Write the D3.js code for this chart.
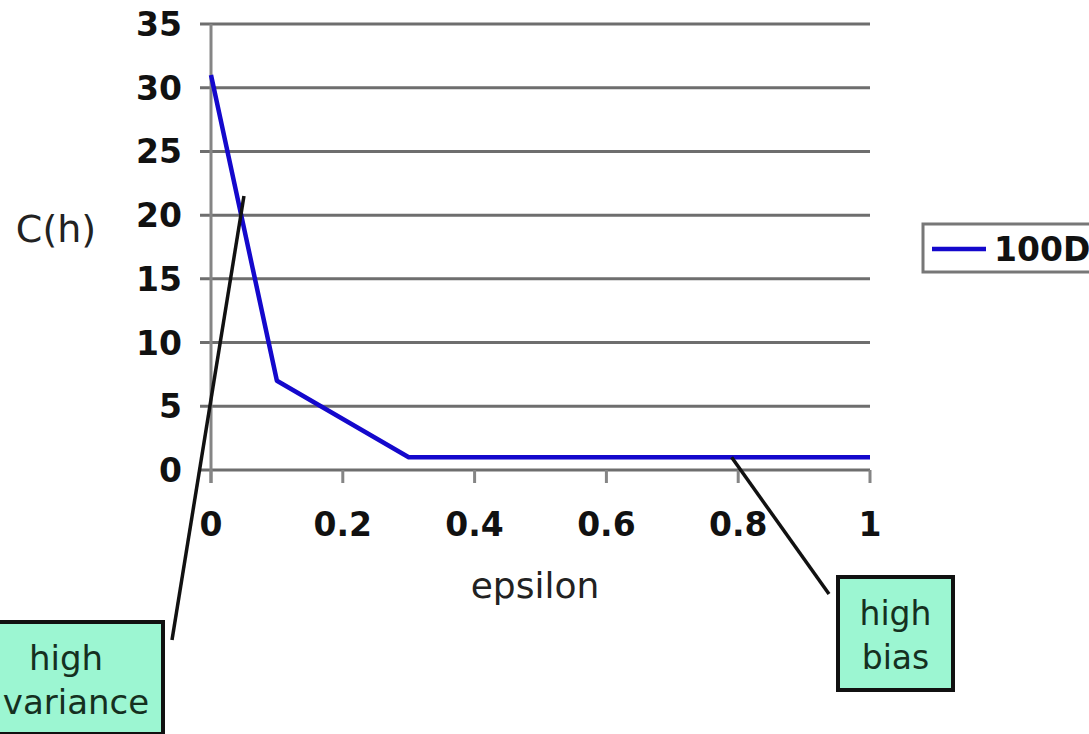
<!DOCTYPE html>
<html>
<head>
<meta charset="utf-8">
<script src="https://cdn.jsdelivr.net/npm/d3@7"></script>
<style>
  html, body { margin: 0; padding: 0; background: #fff; overflow: hidden; }
  svg { display: block; }
</style>
</head>
<body>
<svg id="chart" width="1089" height="734"></svg>
<script>
// Cost C(h) against the epsilon parameter
const epsilon = [0, 0.1, 0.3, 1.0];
const cost = [31, 7, 1, 1];
const seriesName = "100D";
const xTicks = [0, 0.2, 0.4, 0.6, 0.8, 1];
const yTicks = [0, 5, 10, 15, 20, 25, 30, 35];

// Callout anchors in data units, with their label lines
const calloutLabels = [["high", "variance"], ["high", "bias"]];
const calloutAnchors = [[0.05, 21.5], [0.79, 1]];

const svg = d3.select("#chart");
const x = d3.scaleLinear().domain([0, 1]).range([211, 870]);
const y = d3.scaleLinear().domain([0, 35]).range([470, 24]);

const font = "'DejaVu Sans', Verdana, sans-serif";
const gridColor = "#6e6e6e";

// Horizontal gridlines, with the y ticks reaching left past the axis
svg.append("g")
  .selectAll("line")
  .data(yTicks)
  .join("line")
  .attr("x1", 200).attr("x2", x(1))
  .attr("y1", d => y(d)).attr("y2", d => y(d))
  .attr("stroke", gridColor).attr("stroke-width", 3);

// Y axis line
svg.append("line")
  .attr("x1", x(0)).attr("x2", x(0))
  .attr("y1", y(35)).attr("y2", y(0) + 13)
  .attr("stroke", "#858585").attr("stroke-width", 3);

// X axis ticks
svg.append("g")
  .selectAll("line")
  .data(xTicks)
  .join("line")
  .attr("x1", d => x(d)).attr("x2", d => x(d))
  .attr("y1", y(0)).attr("y2", y(0) + 13)
  .attr("stroke", "#858585").attr("stroke-width", 3);

// Y tick labels
svg.append("g")
  .selectAll("text")
  .data(yTicks)
  .join("text")
  .attr("x", 182)
  .attr("y", d => y(d) + 12)
  .attr("text-anchor", "end")
  .attr("font-family", font).attr("font-weight", "bold")
  .attr("font-size", 33).attr("fill", "#111")
  .text(d => d);

// X tick labels
svg.append("g")
  .selectAll("text")
  .data(xTicks)
  .join("text")
  .attr("x", d => x(d))
  .attr("y", 536)
  .attr("text-anchor", "middle")
  .attr("font-family", font).attr("font-weight", "bold")
  .attr("font-size", 33).attr("fill", "#111")
  .text(d => d3.format("~g")(d));

// Axis titles
svg.append("text")
  .attr("x", 56).attr("y", 242)
  .attr("text-anchor", "middle")
  .attr("font-family", font).attr("font-size", 38).attr("fill", "#222")
  .text("C(h)");

svg.append("text")
  .attr("x", 535).attr("y", 598)
  .attr("text-anchor", "middle")
  .attr("font-family", font).attr("font-size", 36).attr("fill", "#222")
  .text("epsilon");

// Data line
const line = d3.line().x((d, i) => x(epsilon[i])).y(d => y(d));
svg.append("path")
  .datum(cost)
  .attr("d", line)
  .attr("fill", "none")
  .attr("stroke", "#1408cc")
  .attr("stroke-width", 4.5)
  .attr("stroke-linejoin", "round");

// Legend
const legend = svg.append("g");
legend.append("rect")
  .attr("x", 923).attr("y", 224).attr("width", 200).attr("height", 48)
  .attr("fill", "#fff").attr("stroke", "#777").attr("stroke-width", 3);
legend.append("line")
  .attr("x1", 932).attr("x2", 986).attr("y1", 249).attr("y2", 249)
  .attr("stroke", "#1408cc").attr("stroke-width", 4.5);
legend.append("text")
  .attr("x", 994).attr("y", 261)
  .attr("font-family", font).attr("font-weight", "bold")
  .attr("font-size", 33).attr("fill", "#111")
  .text(seriesName);

// Callout boxes: position of each box, where its leader line leaves it,
// and the horizontal centre of each text line inside it
const boxes = [
  { x: -20, y: 622, w: 183, h: 112, lineFrom: [172, 640], cx: [66, 76], size: 34 },
  { x: 838, y: 577, w: 115, h: 113, lineFrom: [829, 594], cx: [895.5, 895.5], size: 33 }
];

boxes.forEach((b, i) => {
  const [ax, ay] = calloutAnchors[i];
  svg.append("line")
    .attr("x1", b.lineFrom[0]).attr("y1", b.lineFrom[1])
    .attr("x2", x(ax)).attr("y2", y(ay))
    .attr("stroke", "#111").attr("stroke-width", 3.5);
  svg.append("rect")
    .attr("x", b.x).attr("y", b.y).attr("width", b.w).attr("height", b.h)
    .attr("fill", "#9cf6d2").attr("stroke", "#111").attr("stroke-width", 4);
  calloutLabels[i].forEach((t, j) => {
    svg.append("text")
      .attr("x", b.cx[j]).attr("y", b.y + 48 + j * 44)
      .attr("text-anchor", "middle")
      .attr("font-family", font).attr("font-size", b.size).attr("fill", "#15301f")
      .text(t);
  });
});
</script>
</body>
</html>
